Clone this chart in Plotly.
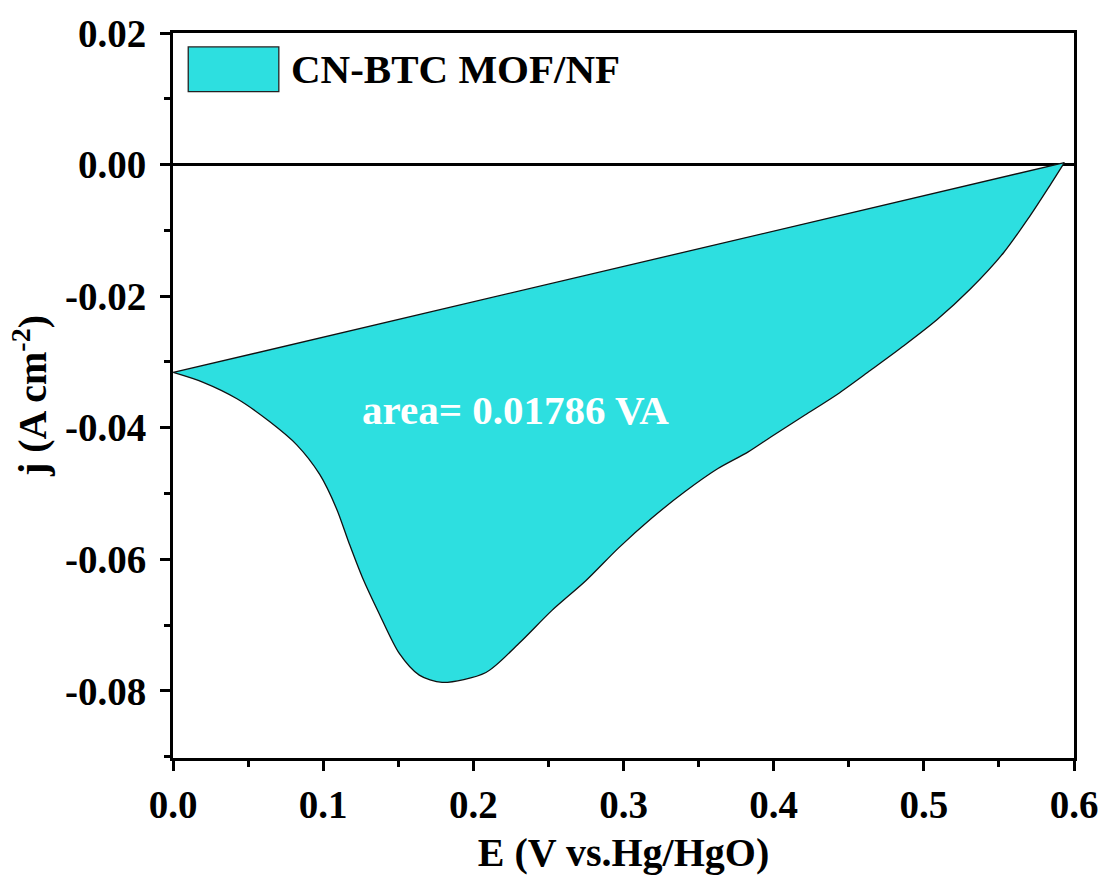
import plotly.graph_objects as go

# Lower (cathodic) branch of the curve, E in V, j in A cm^-2
E_lower = [0.0002, 0.0201, 0.0426, 0.0645, 0.0824, 0.0977, 0.1089, 0.1175, 0.1262,
           0.1374, 0.1507, 0.1640, 0.1792, 0.2084, 0.2303, 0.2522, 0.2747, 0.2966,
           0.3185, 0.3410, 0.3629, 0.3828, 0.3981, 0.4206, 0.4425, 0.4643, 0.4869,
           0.5087, 0.5306, 0.5531, 0.5704, 0.5836, 0.5936]
j_lower = [-0.0316, -0.0331, -0.0356, -0.0391, -0.0426, -0.0471, -0.0523, -0.0577, -0.0628,
           -0.0683, -0.0743, -0.0776, -0.0787, -0.0772, -0.0728, -0.0678, -0.0633, -0.0583,
           -0.0538, -0.0497, -0.0462, -0.0437, -0.0414, -0.0381, -0.0349, -0.0313, -0.0275,
           -0.0236, -0.0190, -0.0134, -0.0079, -0.0033, 0.0003]
# Straight baseline closing the area (from right end back to start)
E_base = [0.5936, 0.0002]
j_base = [0.0003, -0.0316]

series_name = "CN-BTC MOF/NF"
area_text = "area= 0.01786 VA"
fill_color = "#2ddfe0"
FONT = "Liberation Serif"

fig = go.Figure()
# filled area: smoothed lower branch, closed by a straight segment back to the start
fig.add_trace(go.Scatter(
    x=E_lower, y=j_lower,
    mode="lines", fill="toself", fillcolor=fill_color,
    line=dict(color="#111111", width=1.3, shape="spline", smoothing=0.8),
    name=series_name, showlegend=False, hoverinfo="skip",
))
# baseline outline
fig.add_trace(go.Scatter(
    x=E_base, y=j_base, mode="lines",
    line=dict(color="#111111", width=1.3),
    showlegend=False, hoverinfo="skip",
))

fig.add_annotation(x=0.228, y=-0.0373, xref="x", yref="y", text=area_text,
                   showarrow=False, font=dict(family=FONT, size=41, color="white", weight="bold"))

# legend drawn manually
fig.add_shape(type="rect", xref="paper", yref="paper",
              x0=(188 - 172.7) / 905, x1=(279 - 172.7) / 905,
              y0=(758 - 88) / 729, y1=(758 - 43) / 729,
              fillcolor=fill_color, line=dict(color="#222222", width=1.3))
fig.add_annotation(xref="paper", yref="paper", x=(289 - 172.7) / 905, y=(758 - 65.5) / 729,
                   xanchor="left", yanchor="middle", text=series_name, showarrow=False,
                   font=dict(family=FONT, size=41, color="black", weight="bold"))

axis_common = dict(
    showline=True, linecolor="black", linewidth=3, mirror=True,
    ticks="outside", ticklen=10, tickwidth=3, tickcolor="black",
    showgrid=False,
    tickfont=dict(family=FONT, size=39, color="black", weight="bold"),
)

fig.update_xaxes(
    range=[0, 0.6], tickvals=[0, 0.1, 0.2, 0.3, 0.4, 0.5, 0.6],
    ticktext=["0.0", "0.1", "0.2", "0.3", "0.4", "0.5", "0.6"],
    minor=dict(dtick=0.05, tick0=0, ticks="outside", ticklen=6, tickwidth=3, tickcolor="black"),
    zeroline=False,
    title=dict(text="E (V vs.Hg/HgO)", standoff=14,
               font=dict(family=FONT, size=40, color="black", weight="bold")),
    **axis_common,
)
fig.update_yaxes(
    range=[-0.0902, 0.02], tickvals=[0.02, 0.0, -0.02, -0.04, -0.06, -0.08],
    ticktext=["0.02", "0.00", "-0.02", "-0.04", "-0.06", "-0.08"],
    minor=dict(dtick=0.01, tick0=0, ticks="outside", ticklen=6, tickwidth=3, tickcolor="black"),
    zeroline=True, zerolinecolor="black", zerolinewidth=2.5,
    ticklabelstandoff=6,
    title=dict(text="j (A cm<sup>-2</sup>)", standoff=6,
               font=dict(family=FONT, size=40, color="black", weight="bold")),
    **axis_common,
)

fig.update_layout(
    width=1110, height=883,
    margin=dict(l=172.7, r=32.3, t=29, b=125),
    paper_bgcolor="white", plot_bgcolor="white",
    showlegend=False,
)

fig.write_html("out.html")
